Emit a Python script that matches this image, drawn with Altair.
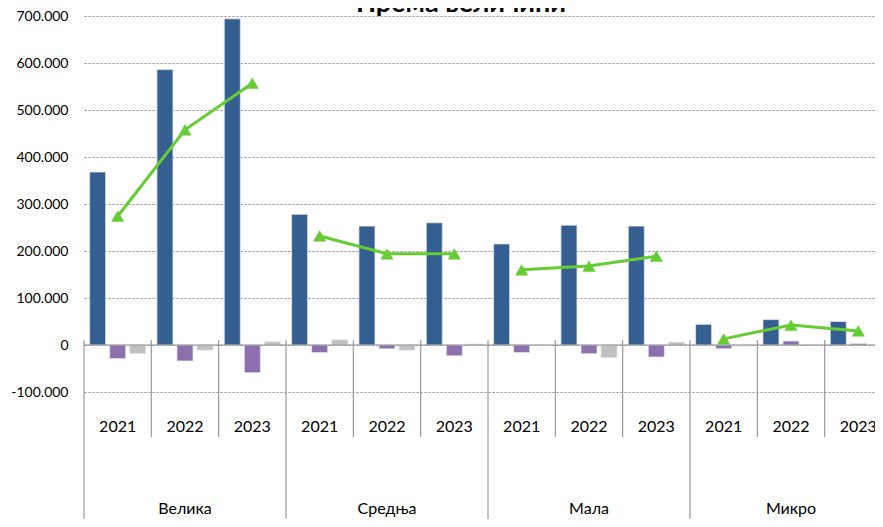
import altair as alt
import pandas as pd

groups = ["Велика", "Средња", "Мала", "Микро"]
years = ["2021", "2022", "2023"]
series_names = ["Серија 1", "Серија 2", "Серија 3"]

# values per (group, year), in order Велика 2021..2023, Средња ..., Мала ..., Микро ...
blue_vals = [368000, 586000, 694000, 278000, 253000, 260000, 215000, 255000, 253000, 44000, 54000, 50000]
purple_vals = [-29000, -34000, -59000, -16000, -8000, -23000, -16000, -18500, -25500, -8000, 8500, 3000]
gray_vals = [-18000, -11000, 7000, 11000, -11000, 2000, -1000, -27000, 6000, -2000, 0, 0]
line_vals = [274000, 458000, 557000, 232000, 194000, 194000, 160000, 168000, 189000, 13000, 42500, 30000]

y_ticks = [-100000, 0, 100000, 200000, 300000, 400000, 500000, 600000, 700000]
title_text = "Према величини"

colors = ["#365F91", "#8C6FAC", "#C0C0C0"]
green = "#66CC33"

slots = []
rows = []
line_rows = []
slot_rows = []
for gi, g in enumerate(groups):
    for yi, yr in enumerate(years):
        i = gi * 3 + yi
        slot = f"{g} {yr}"
        slots.append(slot)
        for s, vals in zip(series_names, [blue_vals, purple_vals, gray_vals]):
            rows.append(dict(slot=slot, group=g, year=yr, series=s, value=vals[i]))
        line_rows.append(dict(slot=slot, group=g, year=yr, value=line_vals[i]))
        slot_rows.append(dict(slot=slot, group=g, year=yr, first=(yi == 0), mid=(yi == 1)))

bars_df = pd.DataFrame(rows)
line_df = pd.DataFrame(line_rows)
slot_df = pd.DataFrame(slot_rows)

H = 376
W = 808
FONT = "Lato, Carlito, 'Open Sans', sans-serif"

xscale = alt.Scale(domain=slots, paddingInner=0, paddingOuter=0)
yscale = alt.Scale(domain=[-100000, 700000], nice=False, zero=False)

xenc = alt.X("slot:N", scale=xscale, axis=None, sort=slots)

bars = alt.Chart(bars_df).mark_bar(stroke="#dfe6ef", strokeWidth=0.8).encode(
    x=xenc,
    xOffset=alt.XOffset("series:N", sort=series_names,
                        scale=alt.Scale(domain=series_names, paddingInner=0.2, paddingOuter=0.28)),
    y=alt.Y("value:Q", scale=yscale, title=None,
            axis=alt.Axis(values=y_ticks, grid=True, gridDash=[2, 2], gridColor="#8a8a8a",
                          gridWidth=1, domain=False, ticks=False, labelPadding=16,
                          labelFontSize=14, labelFont=FONT, labelColor="#000000",
                          labelExpr="datum.value == 0 ? '0' : (datum.value < 0 ? '-' : '') + floor(abs(datum.value) / 1000) + '.000'")),
    color=alt.Color("series:N", scale=alt.Scale(domain=series_names, range=colors), legend=None),
)

zero_line = alt.Chart(pd.DataFrame({"v": [0]})).mark_rule(color="#8c8c8c", strokeWidth=1.2).encode(
    y=alt.Y("v:Q", scale=yscale), x=alt.value(0), x2=alt.value(W)
)

seps_year = alt.Chart(slot_df).transform_filter("!datum.first").mark_rule(color="#9a9a9a", strokeWidth=1.2).encode(
    x=alt.X("slot:N", scale=xscale, axis=None, sort=slots, bandPosition=0),
    y=alt.value(H - 52), y2=alt.value(H + 45),
)
seps_group = alt.Chart(slot_df).transform_filter("datum.first").mark_rule(color="#9a9a9a", strokeWidth=1.2).encode(
    x=alt.X("slot:N", scale=xscale, axis=None, sort=slots, bandPosition=0),
    y=alt.value(H - 52), y2=alt.value(H + 140),
)

year_labels = alt.Chart(slot_df).mark_text(fontSize=16, font=FONT, color="#000000", baseline="middle").encode(
    x=xenc, y=alt.value(H + 35), text="year:N"
)
group_labels = alt.Chart(slot_df).transform_filter("datum.mid").mark_text(
    fontSize=16, font=FONT, color="#000000", baseline="middle").encode(
    x=xenc, y=alt.value(H + 117), text="group:N"
)

line = alt.Chart(line_df).mark_line(color=green, strokeWidth=3).encode(
    x=xenc, y=alt.Y("value:Q", scale=yscale), detail="group:N"
)
pts = alt.Chart(line_df).mark_point(shape="triangle-up", filled=True, size=170, color=green, opacity=1).encode(
    x=xenc, y=alt.Y("value:Q", scale=yscale)
)

title = alt.Chart(pd.DataFrame({"t": [title_text]})).mark_text(
    fontSize=27, fontWeight="bold", font=FONT, color="#000000", baseline="alphabetic", align="center"
).encode(x=alt.value(377), y=alt.value(-4), text="t:N")

chart = alt.layer(
    bars, zero_line, seps_year, seps_group, year_labels, group_labels, line, pts, title
).properties(
    width=W, height=H,
    autosize=alt.AutoSizeParams(type="none"),
    padding={"left": 76, "top": 8, "right": -17, "bottom": 127},
).configure_view(stroke=None)

chart.save("out.html", embed_options={"renderer": "svg", "actions": False})
